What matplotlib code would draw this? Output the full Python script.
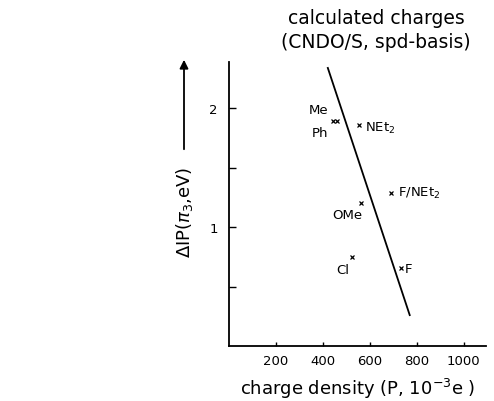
import matplotlib
matplotlib.use("Agg")
import matplotlib.pyplot as plt

# data
substituents = ["Me", "Ph", "NEt$_2$", "F/NEt$_2$", "OMe", "Cl", "F"]
charge = [443, 460, 552, 689, 562, 526, 732]
delta_ip = [1.89, 1.89, 1.86, 1.29, 1.20, 0.745, 0.653]
fit_x = [421, 770]
fit_y = [2.34, 0.26]
xticks = [200, 400, 600, 800, 1000]
yticks = [1, 2]

# label placement (pixel offsets from marks, alignment)
label_style = {
    "Me": (-14, 12, "center"),
    "Ph": (-17, -11, "center"),
    "NEt$_2$": (6, -2, "left"),
    "F/NEt$_2$": (7, 0, "left"),
    "OMe": (-14, -11, "center"),
    "Cl": (-10, -12, "center"),
    "F": (4, 0, "left"),
}

plt.rcParams['font.family'] = ['DejaVu Sans']
fig = plt.figure(figsize=(4.94, 4.02), dpi=100)
ax = fig.add_axes([229/494, 55/402, 257/494, 284/402])

ax.plot(fit_x, fit_y, color="black", lw=1.3)
ax.plot(charge, delta_ip, linestyle="none", marker="x", color="black",
        markersize=3.5, mew=0.9)

for name, x, y in zip(substituents, charge, delta_ip):
    dx, dy, ha = label_style[name]
    ax.annotate(name, (x, y), xytext=(dx * 0.72, dy * 0.72),
                textcoords="offset points", ha=ha, va="center", fontsize=9.5)

ax.set_xlim(0, 1095)
ax.set_ylim(0, 2.39)
ax.set_xticks(xticks)
ax.set_xticklabels([str(t) for t in xticks], fontsize=9.5)
ax.set_yticks(yticks)
ax.set_yticklabels([str(t) for t in yticks], fontsize=9.5)
ax.set_yticks([0.5, 1.5], minor=True)
ax.tick_params(axis="both", which="both", direction="in", width=1.0)
ax.tick_params(axis="y", which="both", length=5, pad=8)
ax.tick_params(axis="x", which="major", length=3, pad=6)
for s in ["top", "right"]:
    ax.spines[s].set_visible(False)
for s in ["left", "bottom"]:
    ax.spines[s].set_linewidth(1.3)

ax.set_xlabel(r"charge density (P, 10$^{-3}$e )", fontsize=13, labelpad=6)

fig.text(184/494, 1 - 212/402, r"$\Delta$IP($\pi_3$,eV)", rotation=90,
         ha="center", va="center", fontsize=13)
fig.add_artist(matplotlib.patches.FancyArrowPatch(
    (184/494, 1 - 153/402), (184/494, 1 - 58/402),
    transform=fig.transFigure, arrowstyle="-|>,head_length=5,head_width=2.5",
    color="black", lw=1.3, mutation_scale=1))

fig.text(376/494, 1 - 18/402, "calculated charges", ha="center", va="center",
         fontsize=13.5)
fig.text(376/494, 1 - 42/402, "(CNDO/S, spd-basis)", ha="center", va="center",
         fontsize=13.5)

fig.savefig("out.png", dpi=100)
